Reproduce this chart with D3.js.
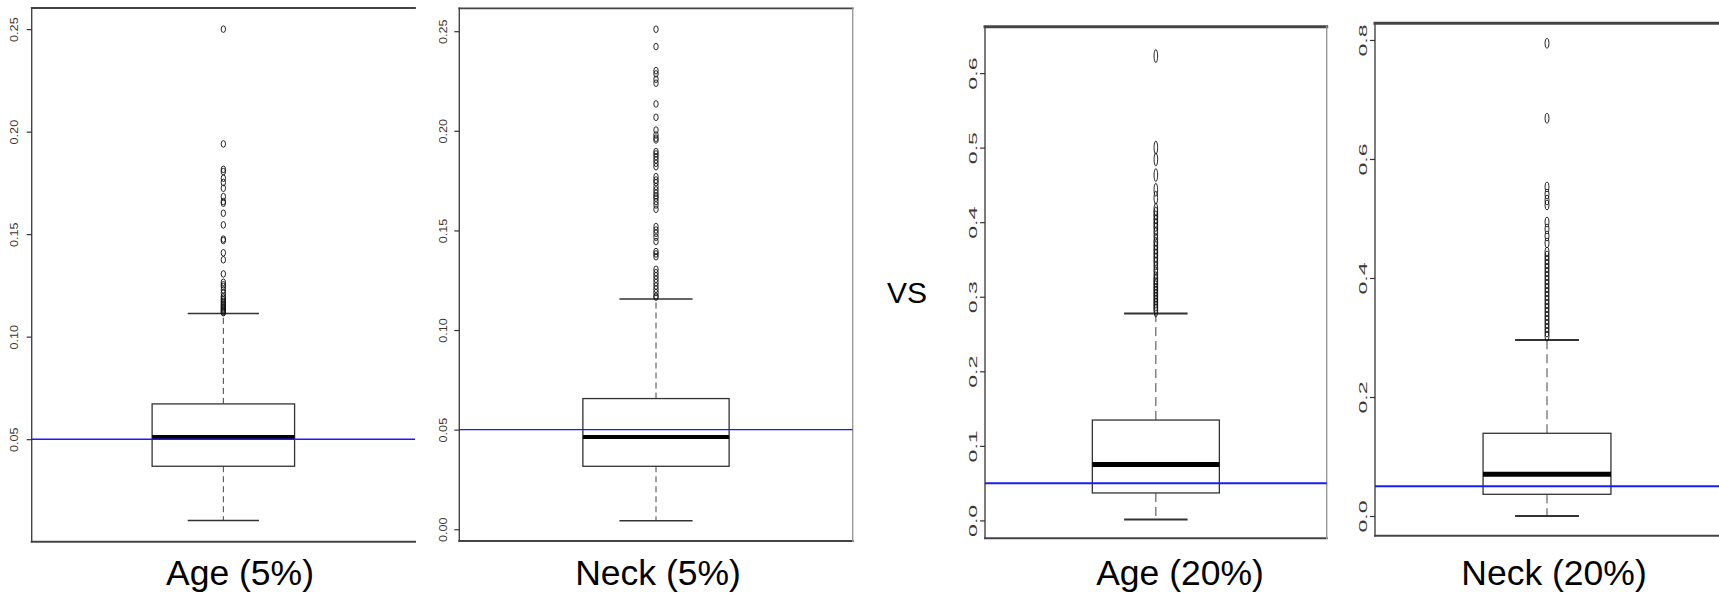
<!DOCTYPE html>
<html>
<head>
<meta charset="utf-8">
<script src="https://cdn.jsdelivr.net/npm/d3@7"></script>
<style>
  body { margin: 0; background: #fff; }
  svg { display: block; font-family: "Liberation Sans", Arial, sans-serif; }
</style>
</head>
<body>
<div id="chart"></div>
<script>
// box statistics, one entry per panel
const panelNames = ["Age (5%)", "Neck (5%)", "Age (20%)", "Neck (20%)"];
const whiskerLow = [0.0103, 0.0043, 0.0013, 0.0];
const q1 = [0.0368, 0.0316, 0.0368, 0.0365];
const medians = [0.0511, 0.0463, 0.075, 0.070];
const q3 = [0.0672, 0.0656, 0.1346, 0.139];
const whiskerHigh = [0.1113, 0.1156, 0.2776, 0.2958];
const refLine = [0.05, 0.05, 0.05, 0.05];

const outliersAge5 = [0.250, 0.194, 0.1816, 0.1805, 0.1773, 0.1752, 0.1724, 0.1683, 0.1659, 0.1651,
  0.1602, 0.1545, 0.1476, 0.1469, 0.1409, 0.1375, 0.1306, 0.1265, 0.1253, 0.1244, 0.1228, 0.1212,
  0.1196, 0.1188, 0.1180, 0.1172, 0.1165, 0.1158, 0.1151, 0.1145, 0.1140, 0.1135, 0.1130, 0.1125,
  0.1120, 0.1117];
const outliersNeck5 = [0.2510, 0.2423, 0.2302, 0.2286, 0.2259, 0.2239, 0.2135, 0.2068, 0.2004, 0.1979,
  0.1963, 0.1954, 0.1896, 0.1884, 0.1870, 0.1854, 0.1837, 0.1820, 0.1770, 0.1753, 0.1740, 0.1720,
  0.1703, 0.1687, 0.1673, 0.1662, 0.1645, 0.1628, 0.1606, 0.1519, 0.1502, 0.1486, 0.1466, 0.1444,
  0.1394, 0.1382, 0.1368, 0.1305, 0.1288, 0.1272, 0.1255, 0.1238, 0.1221, 0.1205, 0.1188, 0.1171,
  0.1165];
const outliersAge20 = [0.6228, 0.5000, 0.4842, 0.4632, 0.4434, 0.4329, 0.4171, 0.4118, 0.4066, 0.4013,
  0.3961, 0.3908, 0.3842, 0.3763, 0.3711, 0.3658, 0.3605, 0.3553, 0.3500, 0.3447, 0.3382, 0.3316,
  0.3250, 0.3211, 0.3171, 0.3132, 0.3092, 0.3053, 0.3013, 0.2974, 0.2934, 0.2895, 0.2855, 0.2816];
const outliersNeck20 = [0.7944, 0.6684, 0.553, 0.541, 0.531, 0.5227, 0.494, 0.4824, 0.4706, 0.4588,
  0.4437, 0.4370, 0.4303, 0.4235, 0.4168, 0.4101, 0.4034, 0.3966, 0.3899, 0.3832, 0.3765, 0.3697,
  0.3630, 0.3563, 0.3496, 0.3429, 0.3361, 0.3294, 0.3227, 0.3160, 0.3092, 0.3025];
const outliers = [outliersAge5, outliersNeck5, outliersAge20, outliersNeck20];

// axis limits and ticks
const yLimits = [[0, 0.2603], [-0.0059, 0.2615], [-0.024, 0.6622], [-0.0331, 0.828]];
const ticksP1 = [0.05, 0.10, 0.15, 0.20, 0.25];
const ticksP2 = [0.00, 0.05, 0.10, 0.15, 0.20, 0.25];
const ticksP3 = [0.0, 0.1, 0.2, 0.3, 0.4, 0.5, 0.6];
const ticksP4 = [0.0, 0.2, 0.4, 0.6, 0.8];
const tickValues = [ticksP1, ticksP2, ticksP3, ticksP4];
const tickFormats = [".2f", ".2f", ".1f", ".1f"];

// panel geometry (layout only)
const panels = [
  {left: 31.7, right: 415, top: 8, bottom: 541.7, sides: ["top", "left", "bottom"], topW: 1.8,
   labelX: 240, lblOff: 13.4, lblSize: 11, stretch: 1.15, rx: 2.2, ry: 3.3, dash: "6,4", medW: 4, capW: 1.5},
  {left: 459.3, right: 852.7, top: 8.3, bottom: 541, sides: ["top", "left", "bottom", "right"], topW: 1.8,
   labelX: 658, lblOff: 12.6, lblSize: 11, stretch: 1.15, rx: 2.2, ry: 3.3, dash: "6,4", medW: 4, capW: 1.5},
  {left: 985, right: 1326.7, top: 26.7, bottom: 538.3, sides: ["top", "left", "bottom", "right"], topW: 3,
   labelX: 1180, lblOff: 8, lblSize: 10.5, stretch: 2.2, rx: 1.8, ry: 6.5, dash: "9,5", medW: 5, capW: 2},
  {left: 1375, right: 1719, top: 23.3, bottom: 535.7, sides: ["top", "left", "bottom"], topW: 3,
   labelX: 1554, lblOff: 8.3, lblSize: 10.5, stretch: 2.2, rx: 2, ry: 5, dash: "9,5", medW: 5, capW: 2}
];

const width = 1719;
const height = 595;

const svg = d3.select("#chart")
  .append("svg")
  .attr("width", width)
  .attr("height", height);

panels.forEach((p, i) => {
  const g = svg.append("g");

  const x = d3.scaleBand()
    .domain([panelNames[i]])
    .range([p.left, p.right])
    .padding(0.458);

  const y = d3.scaleLinear()
    .domain(yLimits[i])
    .range([p.bottom, p.top]);

  const cx = x(panelNames[i]) + x.bandwidth() / 2;
  const bw = x.bandwidth();

  // frame
  const sideLines = {
    top: [p.left, p.top, p.right, p.top],
    bottom: [p.left, p.bottom, p.right, p.bottom],
    left: [p.left, p.top, p.left, p.bottom],
    right: [p.right, p.top, p.right, p.bottom]
  };
  p.sides.forEach(s => {
    const c = sideLines[s];
    g.append("line")
      .attr("x1", c[0]).attr("y1", c[1]).attr("x2", c[2]).attr("y2", c[3])
      .attr("stroke", s === "right" ? "#999" : "#444")
      .attr("stroke-width", s === "top" ? p.topW : (s === "bottom" ? 2 : 1.4))
      .attr("stroke-linecap", "square");
  });

  // y axis
  const axis = g.append("g")
    .attr("transform", `translate(${p.left},0)`)
    .call(d3.axisLeft(y).tickValues(tickValues[i]).tickSize(5)
      .tickFormat(d3.format(tickFormats[i])));
  axis.select(".domain").remove();
  axis.selectAll(".tick line").attr("stroke", "#333").attr("stroke-width", 1.2);
  axis.selectAll(".tick text")
    .attr("x", null).attr("dy", null)
    .attr("text-anchor", "middle")
    .attr("transform", `translate(${-p.lblOff},0) rotate(-90) scale(${p.stretch},1)`)
    .attr("font-size", p.lblSize)
    .attr("font-family", "\"Liberation Sans\", Arial, sans-serif")
    .attr("fill", "#3d352e");

  // whiskers
  g.append("line")
    .attr("x1", cx).attr("x2", cx)
    .attr("y1", y(q3[i])).attr("y2", y(whiskerHigh[i]))
    .attr("stroke", "#444").attr("stroke-width", 1).attr("stroke-dasharray", p.dash);
  g.append("line")
    .attr("x1", cx).attr("x2", cx)
    .attr("y1", y(q1[i])).attr("y2", y(whiskerLow[i]))
    .attr("stroke", "#444").attr("stroke-width", 1).attr("stroke-dasharray", p.dash);

  [whiskerHigh[i], whiskerLow[i]].forEach(v => {
    g.append("line")
      .attr("x1", cx - bw / 4).attr("x2", cx + bw / 4)
      .attr("y1", y(v)).attr("y2", y(v))
      .attr("stroke", "#333").attr("stroke-width", p.capW);
  });

  // box
  g.append("rect")
    .attr("x", cx - bw / 2)
    .attr("width", bw)
    .attr("y", y(q3[i]))
    .attr("height", y(q1[i]) - y(q3[i]))
    .attr("fill", "#fff")
    .attr("stroke", "#333")
    .attr("stroke-width", 1.3);

  g.append("line")
    .attr("x1", cx - bw / 2).attr("x2", cx + bw / 2)
    .attr("y1", y(medians[i])).attr("y2", y(medians[i]))
    .attr("stroke", "#000").attr("stroke-width", p.medW);

  // outliers
  g.selectAll(".outlier")
    .data(outliers[i])
    .enter()
    .append("ellipse")
    .attr("class", "outlier")
    .attr("cx", cx)
    .attr("cy", d => y(d))
    .attr("rx", p.rx)
    .attr("ry", p.ry)
    .attr("fill", "none")
    .attr("stroke", "#111")
    .attr("stroke-width", 0.9);

  // reference line
  g.append("line")
    .attr("x1", p.left).attr("x2", p.right)
    .attr("y1", y(refLine[i])).attr("y2", y(refLine[i]))
    .attr("stroke", "#1a1aff")
    .attr("stroke-width", i < 2 ? 1.4 : 2);

  // panel label
  svg.append("text")
    .attr("x", p.labelX)
    .attr("y", 585)
    .attr("text-anchor", "middle")
    .attr("font-size", 35.5)
    .attr("fill", "#000")
    .text(panelNames[i]);
});

svg.append("text")
  .attr("x", 907)
  .attr("y", 303)
  .attr("text-anchor", "middle")
  .attr("font-size", 30)
  .attr("fill", "#000")
  .text("VS");
</script>
</body>
</html>
